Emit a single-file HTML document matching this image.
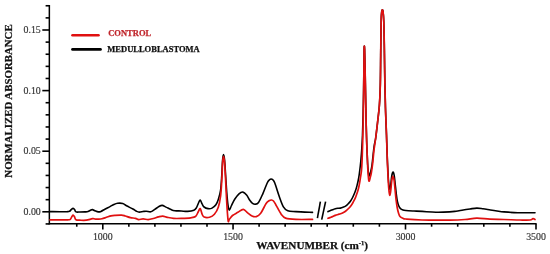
<!DOCTYPE html>
<html><head><meta charset="utf-8"><style>
html,body{margin:0;padding:0;background:#fff;}
body{width:550px;height:254px;overflow:hidden;}
svg{display:block;will-change:transform;filter:blur(0.3px);font-family:"Liberation Serif",serif;}
</style></head><body>
<svg width="550" height="254" viewBox="0 0 550 254">
<rect width="550" height="254" fill="#fff"/>
<line x1="49.35" y1="5.0" x2="49.35" y2="224.39999999999998" stroke="#000" stroke-width="1.5"/>
<line x1="48.65" y1="223.7" x2="536.6" y2="223.7" stroke="#000" stroke-width="1.5"/>
<line x1="45.6" y1="223.92" x2="49.35" y2="223.92" stroke="#000" stroke-width="1.6"/>
<line x1="42.3" y1="211.80" x2="49.35" y2="211.80" stroke="#000" stroke-width="1.6"/>
<line x1="45.6" y1="199.68" x2="49.35" y2="199.68" stroke="#000" stroke-width="1.6"/>
<line x1="45.6" y1="187.56" x2="49.35" y2="187.56" stroke="#000" stroke-width="1.6"/>
<line x1="45.6" y1="175.44" x2="49.35" y2="175.44" stroke="#000" stroke-width="1.6"/>
<line x1="45.6" y1="163.32" x2="49.35" y2="163.32" stroke="#000" stroke-width="1.6"/>
<line x1="42.3" y1="151.20" x2="49.35" y2="151.20" stroke="#000" stroke-width="1.6"/>
<line x1="45.6" y1="139.08" x2="49.35" y2="139.08" stroke="#000" stroke-width="1.6"/>
<line x1="45.6" y1="126.96" x2="49.35" y2="126.96" stroke="#000" stroke-width="1.6"/>
<line x1="45.6" y1="114.84" x2="49.35" y2="114.84" stroke="#000" stroke-width="1.6"/>
<line x1="45.6" y1="102.72" x2="49.35" y2="102.72" stroke="#000" stroke-width="1.6"/>
<line x1="42.3" y1="90.60" x2="49.35" y2="90.60" stroke="#000" stroke-width="1.6"/>
<line x1="45.6" y1="78.48" x2="49.35" y2="78.48" stroke="#000" stroke-width="1.6"/>
<line x1="45.6" y1="66.36" x2="49.35" y2="66.36" stroke="#000" stroke-width="1.6"/>
<line x1="45.6" y1="54.24" x2="49.35" y2="54.24" stroke="#000" stroke-width="1.6"/>
<line x1="45.6" y1="42.12" x2="49.35" y2="42.12" stroke="#000" stroke-width="1.6"/>
<line x1="42.3" y1="30.00" x2="49.35" y2="30.00" stroke="#000" stroke-width="1.6"/>
<line x1="45.6" y1="17.88" x2="49.35" y2="17.88" stroke="#000" stroke-width="1.6"/>
<line x1="45.6" y1="5.76" x2="49.35" y2="5.76" stroke="#000" stroke-width="1.6"/>
<line x1="76.75" y1="223.7" x2="76.75" y2="226.70" stroke="#000" stroke-width="1.6"/>
<line x1="102.80" y1="223.7" x2="102.80" y2="229.50" stroke="#000" stroke-width="1.6"/>
<line x1="128.85" y1="223.7" x2="128.85" y2="226.70" stroke="#000" stroke-width="1.6"/>
<line x1="154.90" y1="223.7" x2="154.90" y2="226.70" stroke="#000" stroke-width="1.6"/>
<line x1="180.95" y1="223.7" x2="180.95" y2="226.70" stroke="#000" stroke-width="1.6"/>
<line x1="207.00" y1="223.7" x2="207.00" y2="226.70" stroke="#000" stroke-width="1.6"/>
<line x1="233.05" y1="223.7" x2="233.05" y2="229.50" stroke="#000" stroke-width="1.6"/>
<line x1="259.10" y1="223.7" x2="259.10" y2="226.70" stroke="#000" stroke-width="1.6"/>
<line x1="285.15" y1="223.7" x2="285.15" y2="226.70" stroke="#000" stroke-width="1.6"/>
<line x1="311.20" y1="223.7" x2="311.20" y2="226.70" stroke="#000" stroke-width="1.6"/>
<line x1="327.20" y1="223.7" x2="327.20" y2="226.70" stroke="#000" stroke-width="1.6"/>
<line x1="353.30" y1="223.7" x2="353.30" y2="226.70" stroke="#000" stroke-width="1.6"/>
<line x1="379.40" y1="223.7" x2="379.40" y2="226.70" stroke="#000" stroke-width="1.6"/>
<line x1="405.50" y1="223.7" x2="405.50" y2="229.50" stroke="#000" stroke-width="1.6"/>
<line x1="431.60" y1="223.7" x2="431.60" y2="226.70" stroke="#000" stroke-width="1.6"/>
<line x1="457.70" y1="223.7" x2="457.70" y2="226.70" stroke="#000" stroke-width="1.6"/>
<line x1="483.80" y1="223.7" x2="483.80" y2="226.70" stroke="#000" stroke-width="1.6"/>
<line x1="509.90" y1="223.7" x2="509.90" y2="226.70" stroke="#000" stroke-width="1.6"/>
<line x1="536.00" y1="223.7" x2="536.00" y2="229.50" stroke="#000" stroke-width="1.6"/>
<path d="M50.00,211.60 C51.67,211.63 57.17,211.78 60.00,211.80 C62.83,211.82 65.42,211.78 67.00,211.70 C68.58,211.62 68.75,211.70 69.50,211.30 C70.25,210.90 70.90,209.78 71.50,209.30 C72.10,208.82 72.58,208.37 73.10,208.40 C73.62,208.43 74.12,208.92 74.60,209.50 C75.08,210.08 75.10,211.48 76.00,211.90 C76.90,212.32 78.50,212.00 80.00,212.00 C81.50,212.00 83.67,211.97 85.00,211.90 C86.33,211.83 87.08,211.88 88.00,211.60 C88.92,211.32 89.75,210.53 90.50,210.20 C91.25,209.87 91.75,209.50 92.50,209.60 C93.25,209.70 94.03,210.42 95.00,210.80 C95.97,211.18 97.30,211.80 98.30,211.90 C99.30,212.00 99.83,211.88 101.00,211.40 C102.17,210.92 103.80,209.80 105.30,209.00 C106.80,208.20 108.58,207.35 110.00,206.60 C111.42,205.85 112.53,205.05 113.80,204.50 C115.07,203.95 116.12,203.47 117.60,203.30 C119.08,203.13 121.22,203.08 122.70,203.50 C124.18,203.92 124.80,204.88 126.50,205.80 C128.20,206.72 131.20,208.07 132.90,209.00 C134.60,209.93 135.63,210.88 136.70,211.40 C137.77,211.92 138.23,212.08 139.30,212.10 C140.37,212.12 141.93,211.65 143.10,211.50 C144.27,211.35 145.03,211.15 146.30,211.20 C147.57,211.25 149.33,212.07 150.70,211.80 C152.07,211.53 153.12,210.48 154.50,209.60 C155.88,208.72 157.72,207.20 159.00,206.50 C160.28,205.80 161.03,205.30 162.20,205.40 C163.37,205.50 164.52,206.40 166.00,207.10 C167.48,207.80 169.62,209.00 171.10,209.60 C172.58,210.20 173.20,210.47 174.90,210.70 C176.60,210.93 179.18,210.88 181.30,211.00 C183.42,211.12 185.50,211.53 187.60,211.40 C189.70,211.27 192.42,210.83 193.90,210.20 C195.38,209.57 195.73,208.80 196.50,207.60 C197.27,206.40 197.88,204.27 198.50,203.00 C199.12,201.73 199.60,199.85 200.20,200.00 C200.80,200.15 201.45,202.73 202.10,203.90 C202.75,205.07 203.10,206.22 204.10,207.00 C205.10,207.78 206.78,208.42 208.10,208.60 C209.42,208.78 210.70,208.75 212.00,208.10 C213.30,207.45 214.85,206.13 215.90,204.70 C216.95,203.27 217.52,201.95 218.30,199.50 C219.08,197.05 220.02,194.08 220.60,190.00 C221.18,185.92 221.47,180.00 221.80,175.00 C222.13,170.00 222.32,163.40 222.60,160.00 C222.88,156.60 223.17,154.60 223.50,154.60 C223.83,154.60 224.25,156.60 224.60,160.00 C224.95,163.40 225.23,169.50 225.60,175.00 C225.97,180.50 226.40,188.00 226.80,193.00 C227.20,198.00 227.58,202.15 228.00,205.00 C228.42,207.85 228.72,210.02 229.30,210.10 C229.88,210.18 230.60,207.30 231.50,205.50 C232.40,203.70 233.45,201.25 234.70,199.30 C235.95,197.35 237.63,195.00 239.00,193.80 C240.37,192.60 241.63,191.92 242.90,192.10 C244.17,192.28 245.45,193.53 246.60,194.90 C247.75,196.27 248.82,198.90 249.80,200.30 C250.78,201.70 251.58,202.65 252.50,203.30 C253.42,203.95 254.30,204.33 255.30,204.20 C256.30,204.07 257.25,204.23 258.50,202.50 C259.75,200.77 261.35,197.05 262.80,193.80 C264.25,190.55 266.08,185.33 267.20,183.00 C268.32,180.67 268.85,180.47 269.50,179.80 C270.15,179.13 270.55,179.00 271.10,179.00 C271.65,179.00 272.18,179.13 272.80,179.80 C273.42,180.47 273.75,180.30 274.80,183.00 C275.85,185.70 277.67,192.03 279.10,196.00 C280.53,199.97 281.95,204.35 283.40,206.80 C284.85,209.25 285.70,209.90 287.80,210.70 C289.90,211.50 291.88,211.32 296.00,211.60 C300.12,211.88 309.75,212.27 312.50,212.40" fill="none" stroke="#000" stroke-width="1.6" stroke-linejoin="round" stroke-linecap="round"/>
<path d="M328.00,211.60 C328.50,211.38 330.10,210.67 331.00,210.30 C331.90,209.93 332.68,209.67 333.40,209.40 C334.12,209.13 334.53,208.88 335.30,208.70 C336.07,208.52 337.15,208.40 338.00,208.30 C338.85,208.20 339.57,208.27 340.40,208.10 C341.23,207.93 342.15,207.62 343.00,207.30 C343.85,206.98 344.67,206.75 345.50,206.20 C346.33,205.65 347.15,204.87 348.00,204.00 C348.85,203.13 349.83,202.08 350.60,201.00 C351.37,199.92 351.95,198.78 352.60,197.50 C353.25,196.22 353.97,194.58 354.50,193.30 C355.03,192.02 355.38,191.08 355.80,189.80 C356.22,188.52 356.60,187.15 357.00,185.60 C357.40,184.05 357.85,182.20 358.20,180.50 C358.55,178.80 358.83,177.15 359.10,175.40 C359.37,173.65 359.58,171.72 359.80,170.00 C360.02,168.28 360.22,166.77 360.40,165.10 C360.58,163.43 360.68,162.52 360.90,160.00 C361.12,157.48 361.43,154.17 361.70,150.00 C361.97,145.83 362.27,140.83 362.50,135.00 C362.73,129.17 362.92,122.50 363.10,115.00 C363.28,107.50 363.47,97.50 363.60,90.00 C363.73,82.50 363.82,75.83 363.90,70.00 C363.97,64.17 364.00,58.83 364.05,55.00 C364.10,51.17 364.11,48.00 364.20,47.00 C364.29,46.00 364.45,45.17 364.60,49.00 C364.75,52.83 364.93,62.33 365.10,70.00 C365.27,77.67 365.42,85.83 365.60,95.00 C365.78,104.17 366.00,116.67 366.20,125.00 C366.40,133.33 366.57,138.67 366.80,145.00 C367.03,151.33 367.35,158.50 367.60,163.00 C367.85,167.50 368.10,169.87 368.30,172.00 C368.50,174.13 368.62,175.20 368.80,175.80 C368.98,176.40 369.12,176.18 369.40,175.60 C369.68,175.02 370.07,174.07 370.50,172.30 C370.93,170.53 371.42,169.22 372.00,165.00 C372.58,160.78 373.38,151.50 374.00,147.00 C374.62,142.50 375.10,142.17 375.70,138.00 C376.30,133.83 376.98,127.50 377.60,122.00 C378.22,116.50 378.95,111.17 379.40,105.00 C379.85,98.83 380.08,93.33 380.30,85.00 C380.52,76.67 380.58,64.17 380.70,55.00 C380.82,45.83 380.88,36.67 381.00,30.00 C381.12,23.33 381.20,18.33 381.40,15.00 C381.60,11.67 381.92,10.50 382.20,10.00 C382.48,9.50 382.83,10.00 383.10,12.00 C383.37,14.00 383.60,16.50 383.80,22.00 C384.00,27.50 384.12,34.50 384.30,45.00 C384.48,55.50 384.68,73.83 384.90,85.00 C385.12,96.17 385.33,103.67 385.60,112.00 C385.87,120.33 386.22,127.33 386.50,135.00 C386.78,142.67 387.00,150.83 387.30,158.00 C387.60,165.17 388.00,173.25 388.30,178.00 C388.60,182.75 388.85,184.60 389.10,186.50 C389.35,188.40 389.55,189.40 389.80,189.40 C390.05,189.40 390.30,188.57 390.60,186.50 C390.90,184.43 391.27,179.32 391.60,177.00 C391.93,174.68 392.28,173.33 392.60,172.60 C392.92,171.87 393.22,172.03 393.50,172.60 C393.78,173.17 394.02,174.10 394.30,176.00 C394.58,177.90 394.87,181.00 395.20,184.00 C395.53,187.00 395.93,191.08 396.30,194.00 C396.67,196.92 396.98,199.50 397.40,201.50 C397.82,203.50 398.28,204.82 398.80,206.00 C399.32,207.18 399.80,207.93 400.50,208.60 C401.20,209.27 402.10,209.68 403.00,210.00 C403.90,210.32 404.07,210.33 405.90,210.50 C407.73,210.67 411.27,210.85 414.00,211.00 C416.73,211.15 418.65,211.20 422.30,211.40 C425.95,211.60 431.37,212.12 435.90,212.20 C440.43,212.28 446.15,212.07 449.50,211.90 C452.85,211.73 453.72,211.52 456.00,211.20 C458.28,210.88 460.87,210.37 463.20,210.00 C465.53,209.63 467.73,209.32 470.00,209.00 C472.27,208.68 474.63,208.13 476.80,208.10 C478.97,208.07 480.73,208.48 483.00,208.80 C485.27,209.12 488.07,209.63 490.40,210.00 C492.73,210.37 494.73,210.68 497.00,211.00 C499.27,211.32 500.55,211.62 504.00,211.90 C507.45,212.18 512.53,212.57 517.70,212.70 C522.87,212.83 532.12,212.70 535.00,212.70" fill="none" stroke="#000" stroke-width="1.6" stroke-linejoin="round" stroke-linecap="round"/>
<path d="M50.00,219.80 C51.67,219.82 57.00,219.90 60.00,219.90 C63.00,219.90 66.28,219.90 68.00,219.80 C69.72,219.70 69.67,219.80 70.30,219.30 C70.93,218.80 71.33,217.50 71.80,216.80 C72.27,216.10 72.65,215.10 73.10,215.10 C73.55,215.10 74.02,216.02 74.50,216.80 C74.98,217.58 75.08,219.23 76.00,219.80 C76.92,220.37 78.30,220.13 80.00,220.20 C81.70,220.27 84.12,220.45 86.20,220.20 C88.28,219.95 91.03,218.90 92.50,218.70 C93.97,218.50 93.93,218.92 95.00,219.00 C96.07,219.08 97.73,219.23 98.90,219.20 C100.07,219.17 100.73,219.12 102.00,218.80 C103.27,218.48 105.00,217.80 106.50,217.30 C108.00,216.80 109.57,216.13 111.00,215.80 C112.43,215.47 113.35,215.42 115.10,215.30 C116.85,215.18 119.80,214.98 121.50,215.10 C123.20,215.22 123.82,215.58 125.30,216.00 C126.78,216.42 128.70,217.22 130.40,217.60 C132.10,217.98 134.13,217.97 135.50,218.30 C136.87,218.63 137.33,219.50 138.60,219.60 C139.87,219.70 141.50,218.90 143.10,218.90 C144.70,218.90 146.50,219.67 148.20,219.60 C149.90,219.53 151.60,218.95 153.30,218.50 C155.00,218.05 156.82,217.30 158.40,216.90 C159.98,216.50 161.32,216.03 162.80,216.10 C164.28,216.17 165.50,216.92 167.30,217.30 C169.10,217.68 171.27,218.22 173.60,218.40 C175.93,218.58 178.45,218.50 181.30,218.40 C184.15,218.30 188.33,218.12 190.70,217.80 C193.07,217.48 194.23,217.50 195.50,216.50 C196.77,215.50 197.52,213.12 198.30,211.80 C199.08,210.48 199.57,208.22 200.20,208.60 C200.83,208.98 201.45,212.70 202.10,214.10 C202.75,215.50 202.85,216.48 204.10,217.00 C205.35,217.52 207.88,217.65 209.60,217.20 C211.32,216.75 212.95,215.95 214.40,214.30 C215.85,212.65 217.27,210.35 218.30,207.30 C219.33,204.25 220.02,200.55 220.60,196.00 C221.18,191.45 221.47,185.50 221.80,180.00 C222.13,174.50 222.32,166.93 222.60,163.00 C222.88,159.07 223.17,156.40 223.50,156.40 C223.83,156.40 224.25,159.07 224.60,163.00 C224.95,166.93 225.27,173.83 225.60,180.00 C225.93,186.17 226.28,194.33 226.60,200.00 C226.92,205.67 227.22,210.42 227.50,214.00 C227.78,217.58 228.00,220.58 228.30,221.50 C228.60,222.42 228.60,220.50 229.30,219.50 C230.00,218.50 231.07,216.70 232.50,215.50 C233.93,214.30 236.10,213.32 237.90,212.30 C239.70,211.28 241.67,209.30 243.30,209.40 C244.93,209.50 246.25,211.80 247.70,212.90 C249.15,214.00 250.57,215.38 252.00,216.00 C253.43,216.62 254.85,217.05 256.30,216.60 C257.75,216.15 259.07,215.47 260.70,213.30 C262.33,211.13 264.63,205.73 266.10,203.60 C267.57,201.47 268.60,201.10 269.50,200.50 C270.40,199.90 270.83,199.92 271.50,200.00 C272.17,200.08 272.78,200.22 273.50,201.00 C274.22,201.78 274.50,202.47 275.80,204.70 C277.10,206.93 279.67,212.17 281.30,214.40 C282.93,216.63 283.15,217.27 285.60,218.10 C288.05,218.93 291.52,219.18 296.00,219.40 C300.48,219.62 309.75,219.40 312.50,219.40" fill="none" stroke="#e01010" stroke-width="1.7" stroke-linejoin="round" stroke-linecap="round"/>
<path d="M328.00,218.30 C328.50,218.13 329.78,217.78 331.00,217.30 C332.22,216.82 334.13,215.87 335.30,215.40 C336.47,214.93 337.15,214.77 338.00,214.50 C338.85,214.23 339.57,214.08 340.40,213.80 C341.23,213.52 342.15,213.22 343.00,212.80 C343.85,212.38 344.67,211.93 345.50,211.30 C346.33,210.67 347.15,209.85 348.00,209.00 C348.85,208.15 349.83,207.17 350.60,206.20 C351.37,205.23 351.95,204.28 352.60,203.20 C353.25,202.12 353.97,200.78 354.50,199.70 C355.03,198.62 355.38,197.77 355.80,196.70 C356.22,195.63 356.60,194.50 357.00,193.30 C357.40,192.10 357.85,190.78 358.20,189.50 C358.55,188.22 358.83,186.88 359.10,185.60 C359.37,184.32 359.58,183.07 359.80,181.80 C360.02,180.53 360.12,179.92 360.40,178.00 C360.68,176.08 361.22,173.30 361.50,170.30 C361.78,167.30 361.92,164.22 362.10,160.00 C362.28,155.78 362.43,150.83 362.60,145.00 C362.77,139.17 362.93,133.33 363.10,125.00 C363.27,116.67 363.47,104.17 363.60,95.00 C363.73,85.83 363.82,76.67 363.90,70.00 C363.97,63.33 364.00,58.83 364.05,55.00 C364.10,51.17 364.11,48.00 364.20,47.00 C364.29,46.00 364.45,45.17 364.60,49.00 C364.75,52.83 364.93,62.33 365.10,70.00 C365.27,77.67 365.42,85.83 365.60,95.00 C365.78,104.17 366.00,116.67 366.20,125.00 C366.40,133.33 366.57,138.33 366.80,145.00 C367.03,151.67 367.35,159.83 367.60,165.00 C367.85,170.17 368.10,173.42 368.30,176.00 C368.50,178.58 368.63,179.67 368.80,180.50 C368.97,181.33 369.10,181.33 369.30,181.00 C369.50,180.67 369.67,179.83 370.00,178.50 C370.33,177.17 370.87,175.42 371.30,173.00 C371.73,170.58 372.15,167.83 372.60,164.00 C373.05,160.17 373.48,154.33 374.00,150.00 C374.52,145.67 375.10,142.67 375.70,138.00 C376.30,133.33 376.98,127.50 377.60,122.00 C378.22,116.50 378.95,111.17 379.40,105.00 C379.85,98.83 380.08,93.33 380.30,85.00 C380.52,76.67 380.58,64.17 380.70,55.00 C380.82,45.83 380.88,36.67 381.00,30.00 C381.12,23.33 381.20,18.33 381.40,15.00 C381.60,11.67 381.92,10.50 382.20,10.00 C382.48,9.50 382.83,10.00 383.10,12.00 C383.37,14.00 383.60,16.50 383.80,22.00 C384.00,27.50 384.12,34.50 384.30,45.00 C384.48,55.50 384.68,73.83 384.90,85.00 C385.12,96.17 385.33,103.67 385.60,112.00 C385.87,120.33 386.22,127.00 386.50,135.00 C386.78,143.00 387.00,152.17 387.30,160.00 C387.60,167.83 388.00,176.67 388.30,182.00 C388.60,187.33 388.85,189.75 389.10,192.00 C389.35,194.25 389.55,195.50 389.80,195.50 C390.05,195.50 390.30,194.25 390.60,192.00 C390.90,189.75 391.27,184.53 391.60,182.00 C391.93,179.47 392.30,177.58 392.60,176.80 C392.90,176.02 393.13,176.60 393.40,177.30 C393.67,178.00 393.92,178.88 394.20,181.00 C394.48,183.12 394.78,186.83 395.10,190.00 C395.42,193.17 395.75,197.08 396.10,200.00 C396.45,202.92 396.80,205.33 397.20,207.50 C397.60,209.67 398.03,211.50 398.50,213.00 C398.97,214.50 399.25,215.62 400.00,216.50 C400.75,217.38 402.02,217.88 403.00,218.30 C403.98,218.72 402.73,218.72 405.90,219.00 C409.07,219.28 414.65,219.82 422.00,220.00 C429.35,220.18 442.83,220.18 450.00,220.10 C457.17,220.02 460.53,219.82 465.00,219.50 C469.47,219.18 472.63,218.25 476.80,218.20 C480.97,218.15 485.47,218.98 490.00,219.20 C494.53,219.42 499.00,219.37 504.00,219.50 C509.00,219.63 515.67,219.92 520.00,220.00 C524.33,220.08 527.83,220.22 530.00,220.00 C532.17,219.78 532.17,218.78 533.00,218.70 C533.83,218.62 534.67,219.37 535.00,219.50" fill="none" stroke="#e01010" stroke-width="1.7" stroke-linejoin="round" stroke-linecap="round"/>
<line x1="317.4" y1="218.2" x2="320.4" y2="201.6" stroke="#000" stroke-width="1.6"/>
<line x1="321.7" y1="219.6" x2="325.6" y2="201.6" stroke="#000" stroke-width="1.6"/>
<line x1="72.5" y1="35.25" x2="98.5" y2="35.25" stroke="#e01010" stroke-width="2.6" stroke-linecap="round"/>
<line x1="72.5" y1="49.4" x2="100.5" y2="49.4" stroke="#000" stroke-width="2.7" stroke-linecap="round"/>
<text x="40.8" y="33.10000000000003" font-size="9.9" font-weight="normal" fill="#333" stroke="#333" stroke-width="0.15" text-anchor="end" >0.15</text>
<text x="40.8" y="93.70000000000002" font-size="9.9" font-weight="normal" fill="#333" stroke="#333" stroke-width="0.15" text-anchor="end" >0.10</text>
<text x="40.8" y="154.3" font-size="9.9" font-weight="normal" fill="#333" stroke="#333" stroke-width="0.15" text-anchor="end" >0.05</text>
<text x="40.8" y="214.9" font-size="9.9" font-weight="normal" fill="#333" stroke="#333" stroke-width="0.15" text-anchor="end" >0.00</text>
<text x="102.80" y="239.6" font-size="9.9" font-weight="normal" fill="#333" stroke="#333" stroke-width="0.15" text-anchor="middle" >1000</text>
<text x="233.05" y="239.6" font-size="9.9" font-weight="normal" fill="#333" stroke="#333" stroke-width="0.15" text-anchor="middle" >1500</text>
<text x="405.50" y="239.6" font-size="9.9" font-weight="normal" fill="#333" stroke="#333" stroke-width="0.15" text-anchor="middle" >3000</text>
<text x="536.00" y="239.6" font-size="9.9" font-weight="normal" fill="#333" stroke="#333" stroke-width="0.15" text-anchor="middle" >3500</text>
<text x="108.2" y="35.9" font-size="8.5" font-weight="bold" fill="#c0272d" stroke="#c0272d" stroke-width="0.25" text-anchor="start" >CONTROL</text>
<text x="107.3" y="51.6" font-size="8.5" font-weight="bold" fill="#111" stroke="#111" stroke-width="0.25" text-anchor="start" >MEDULLOBLASTOMA</text>
<text x="256.2" y="248.7" font-size="11.2" font-weight="bold" fill="#111" stroke="#111" stroke-width="0.25" text-anchor="start" >WAVENUMBER (cm<tspan font-size="6.5" dy="-4.2">-1</tspan><tspan dy="4.2">)</tspan></text>
<text x="0" y="0" font-size="10.85" font-weight="bold" fill="#111" stroke="#111" stroke-width="0.25" text-anchor="middle" transform="translate(11.9,101) rotate(-90)">NORMALIZED ABSORBANCE</text>
</svg>
</body></html>
